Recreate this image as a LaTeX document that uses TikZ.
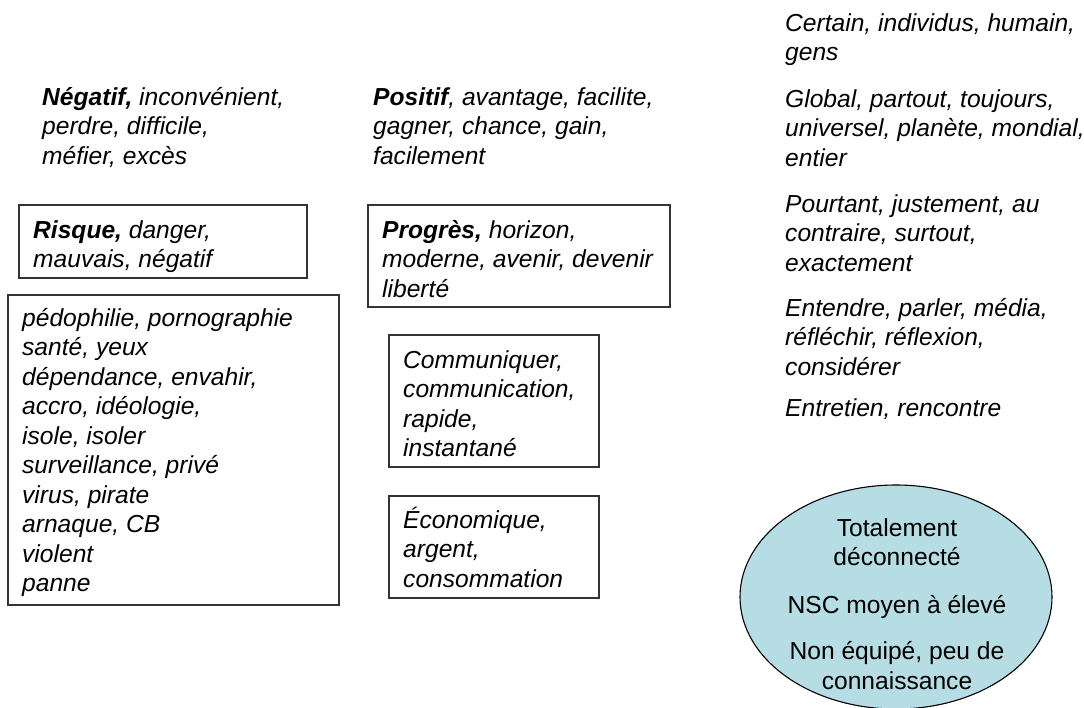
\documentclass[tikz,border=0pt]{standalone}
\usepackage{fontspec}
\setmainfont{Liberation Sans}
\newcommand\fl{\rule{0pt}{23pt}}
\begin{document}
\begin{tikzpicture}[x=1pt,y=-1pt,
  txt/.style={anchor=north west, inner sep=0pt, align=left,
    font=\fontsize{24.6}{29.5}\selectfont\itshape},
  ovaltxt/.style={anchor=north, inner sep=0pt, align=center,
    font=\fontsize{24.6}{29.5}\selectfont},
  frame/.style={draw=black!80, line width=1.3pt},
  oval/.style={draw=black, line width=1.1pt, fill=ovalblue}]
\definecolor{ovalblue}{RGB}{183,221,228}
\useasboundingbox (0,0) rectangle (1084,707);
% frames
\draw[frame] (19,205) rectangle (307,278);
\draw[frame] (8,295) rectangle (339,605);
\draw[frame] (368,205) rectangle (670,307);
\draw[frame] (389,335) rectangle (599,467);
\draw[frame] (389,496) rectangle (599,598);
% ellipse
\draw[oval] (896,597) ellipse [x radius=156, y radius=112];
% texts
\node[txt] (neg) at (42,82) {\fl\textbf{Négatif,} inconvénient,\\perdre, difficile,\\méfier, excès};
\node[txt] (pos) at (373,82) {\fl\textbf{Positif}, avantage, facilite,\\gagner, chance, gain,\\facilement};
\node[txt] (risque) at (33,215) {\fl\textbf{Risque,} danger,\\mauvais, négatif};
\node[txt] (progres) at (382,215) {\fl\textbf{Progrès,} horizon,\\moderne, avenir, devenir\\liberté};
\node[txt] (liste) at (22,303) {\fl pédophilie, pornographie\\santé, yeux\\dépendance, envahir,\\accro, idéologie,\\isole, isoler\\surveillance, privé\\virus, pirate\\arnaque, CB\\violent\\panne};
\node[txt] (comm) at (403,345) {\fl Communiquer,\\communication,\\rapide,\\instantané};
\node[txt] (eco) at (403,505) {\fl Économique,\\argent,\\consommation};
\node[txt] (certain) at (785,8) {\fl Certain, individus, humain,\\gens};
\node[txt] (global) at (785,84) {\fl Global, partout, toujours,\\universel, planète, mondial,\\entier};
\node[txt] (pourtant) at (785,189) {\fl Pourtant, justement, au\\contraire, surtout,\\exactement};
\node[txt] (entendre) at (785,293) {\fl Entendre, parler, média,\\réfléchir, réflexion,\\considérer};
\node[txt] (entretien) at (785,393) {\fl Entretien, rencontre};
\node[ovaltxt] (ovtxt) at (897,513) {\fl Totalement\\déconnecté\\[18pt]NSC moyen à élevé\\[17pt]Non équipé, peu de\\connaissance};
\end{tikzpicture}
\end{document}
